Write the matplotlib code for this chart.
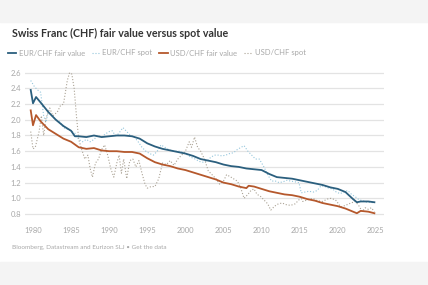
import matplotlib
matplotlib.use("Agg")
import matplotlib.pyplot as plt
from matplotlib.patches import Rectangle

plt.rcParams['font.family'] = ['Lato', 'DejaVu Sans']

# --- data ---
eur_fair_years = [1979.7, 1980.0, 1980.4, 1981, 1982, 1983, 1984, 1985, 1985.5, 1986, 1987, 1988,
                  1989, 1990, 1991, 1992, 1993, 1994, 1995, 1996, 1997, 1998, 1999, 2000, 2001,
                  2002, 2003, 2004, 2005, 2006, 2007, 2008, 2009, 2010, 2011, 2012, 2013, 2014,
                  2015, 2016, 2017, 2018, 2019, 2020, 2021, 2022, 2022.5, 2023, 2024, 2024.8]
eur_fair = [2.38, 2.21, 2.29, 2.22, 2.10, 2.00, 1.92, 1.86, 1.79, 1.79, 1.78, 1.80,
            1.78, 1.79, 1.80, 1.80, 1.79, 1.76, 1.70, 1.66, 1.63, 1.61, 1.59, 1.57, 1.54,
            1.50, 1.48, 1.46, 1.43, 1.41, 1.40, 1.38, 1.37, 1.36, 1.31, 1.27, 1.26, 1.25,
            1.23, 1.21, 1.19, 1.17, 1.14, 1.12, 1.08, 0.99, 0.95, 0.96, 0.96, 0.95]

usd_fair_years = [1979.7, 1980.0, 1980.4, 1981, 1982, 1983, 1984, 1985, 1986, 1987, 1988, 1989,
                  1990, 1991, 1992, 1993, 1994, 1995, 1996, 1997, 1998, 1999, 2000, 2001, 2002,
                  2003, 2004, 2005, 2006, 2007, 2008, 2008.3, 2009, 2010, 2011, 2012, 2013, 2014,
                  2015, 2016, 2017, 2018, 2019, 2020, 2021, 2022, 2022.5, 2023, 2024, 2024.8]
usd_fair = [2.12, 1.93, 2.06, 1.98, 1.88, 1.82, 1.76, 1.72, 1.65, 1.63, 1.64, 1.61,
            1.60, 1.60, 1.59, 1.59, 1.57, 1.51, 1.46, 1.43, 1.41, 1.38, 1.36, 1.33, 1.30,
            1.27, 1.24, 1.20, 1.18, 1.15, 1.13, 1.16, 1.15, 1.12, 1.09, 1.07, 1.05, 1.04,
            1.02, 0.99, 0.97, 0.94, 0.92, 0.90, 0.87, 0.83, 0.81, 0.84, 0.83, 0.81]

eur_spot_years = [1979.7, 1980.2, 1980.6, 1981.0, 1981.4, 1981.7, 1982.0, 1982.5, 1983.0, 1983.5,
                  1984.0, 1984.5, 1985.0, 1985.5, 1986.0, 1986.5, 1987.0, 1987.5, 1988.0, 1988.5,
                  1989.0, 1989.5, 1990.0, 1990.4, 1990.8, 1991.2, 1991.8, 1992.3, 1992.8, 1993.3,
                  1993.8, 1994.3, 1994.8, 1995.3, 1995.8, 1996.3, 1996.8, 1997.3, 1997.8, 1998.3,
                  1998.8, 1999.3, 1999.8, 2000.3, 2000.8, 2001.3, 2001.8, 2002.3, 2002.8, 2003.3,
                  2003.8, 2004.3, 2004.8, 2005.3, 2005.8, 2006.3, 2006.8, 2007.3, 2007.7, 2008.2,
                  2008.7, 2009.2, 2009.7, 2010.3, 2010.8, 2011.3, 2011.8, 2012.3, 2012.8, 2013.3,
                  2013.8, 2014.4, 2014.9, 2015.2, 2015.7, 2016.2, 2016.8, 2017.3, 2017.8, 2018.3,
                  2018.8, 2019.3, 2019.8, 2020.3, 2020.8, 2021.3, 2021.8, 2022.3, 2022.8, 2023.3,
                  2023.8, 2024.3, 2024.8]
eur_spot = [2.50, 2.42, 2.38, 2.35, 2.05, 1.97, 2.10, 2.05, 2.00, 1.98,
            1.90, 1.88, 1.86, 1.83, 1.75, 1.72, 1.75, 1.72, 1.75, 1.80,
            1.78, 1.82, 1.85, 1.86, 1.80, 1.82, 1.90, 1.85, 1.80, 1.78,
            1.72, 1.65, 1.60, 1.57, 1.55, 1.60, 1.68, 1.65, 1.62, 1.60,
            1.60, 1.60, 1.58, 1.55, 1.52, 1.50, 1.47, 1.46, 1.47, 1.52,
            1.55, 1.55, 1.54, 1.55, 1.57, 1.58, 1.62, 1.65, 1.67, 1.60,
            1.55, 1.50, 1.50, 1.40, 1.30, 1.22, 1.22, 1.20, 1.21, 1.23,
            1.22, 1.21, 1.20, 1.07, 1.08, 1.09, 1.08, 1.10, 1.16, 1.15,
            1.13, 1.12, 1.08, 1.06, 1.08, 1.10, 1.05, 1.02, 0.98, 0.97,
            0.95, 0.95, 0.94]

usd_spot_years = [1979.7, 1980.0, 1980.3, 1980.8, 1981.1, 1981.4, 1981.7, 1982.2, 1982.6, 1983.2,
                  1983.6, 1984.0, 1984.5, 1984.8, 1985.1, 1985.4, 1985.7, 1986.0, 1986.4, 1986.8,
                  1987.2, 1987.5, 1987.8, 1988.2, 1988.6, 1989.0, 1989.4, 1989.8, 1990.2, 1990.6,
                  1991.0, 1991.3, 1991.6, 1991.9, 1992.3, 1992.7, 1993.1, 1993.5, 1993.9, 1994.3,
                  1994.7, 1995.0, 1995.5, 1996.0, 1996.5, 1997.0, 1997.5, 1998.0, 1998.5, 1999.0,
                  1999.5, 2000.0, 2000.5, 2000.8, 2001.2, 2001.6, 2002.0, 2002.5, 2003.0, 2003.5,
                  2004.0, 2004.5, 2005.0, 2005.4, 2005.8, 2006.3, 2006.8, 2007.2, 2007.7, 2008.2,
                  2008.6, 2009.0, 2009.4, 2009.8, 2010.3, 2010.8, 2011.2, 2011.7, 2012.2, 2012.7,
                  2013.2, 2013.8, 2014.4, 2014.9, 2015.1, 2015.4, 2016.0, 2016.7, 2017.3, 2018.0,
                  2018.6, 2019.1, 2019.7, 2020.4, 2021.0, 2021.7, 2022.3, 2022.8, 2023.2, 2023.6,
                  2024.0, 2024.4, 2024.8]
usd_spot = [1.85, 1.63, 1.65, 1.85, 2.05, 1.80, 2.02, 2.15, 2.05, 2.10,
            2.18, 2.20, 2.50, 2.60, 2.58, 2.40, 2.05, 1.75, 1.62, 1.50,
            1.55, 1.38, 1.27, 1.45, 1.50, 1.62, 1.68, 1.55, 1.38, 1.27,
            1.45, 1.55, 1.32, 1.50, 1.25, 1.48, 1.50, 1.40, 1.48, 1.32,
            1.18, 1.13, 1.15, 1.15, 1.25, 1.45, 1.43, 1.48, 1.42, 1.50,
            1.55, 1.60, 1.72, 1.65, 1.78, 1.65, 1.60, 1.50, 1.35, 1.30,
            1.25, 1.18, 1.22, 1.30, 1.28, 1.25, 1.22, 1.15, 1.00, 1.05,
            1.10, 1.12, 1.05, 1.03, 0.98, 0.93, 0.85, 0.90, 0.93, 0.94,
            0.92, 0.91, 0.93, 0.98, 1.02, 0.96, 0.98, 1.00, 0.97, 0.96,
            0.99, 1.00, 0.98, 0.89, 0.91, 0.94, 0.96, 0.90, 0.83, 0.88,
            0.86, 0.88, 0.83]

y_ticks = [0.8, 1.0, 1.2, 1.4, 1.6, 1.8, 2.0, 2.2, 2.4, 2.6]
x_ticks = [1980, 1985, 1990, 1995, 2000, 2005, 2010, 2015, 2020, 2025]

c_eur = '#2b5f7e'
c_eur_spot = '#94c6dc'
c_usd = '#b5582c'
c_usd_spot = '#aaa294'
grey_txt = '#a8a8a8'

W, H = 428, 285
fig = plt.figure(figsize=(W / 100, H / 100), dpi=100)
fig.patch.set_facecolor('white')

# grey bands top and bottom
fig.add_artist(Rectangle((0, 1 - 22 / H), 1, 22 / H, transform=fig.transFigure,
                         color='#f4f4f4', zorder=0))
fig.add_artist(Rectangle((0, 0), 1, 23 / H, transform=fig.transFigure,
                         color='#f4f4f4', zorder=0))

ax = fig.add_axes([25 / W, 1 - 215.6 / H, 359 / W, (215.6 - 71.1) / H])
ax.set_facecolor('white')

ax.plot(eur_spot_years, eur_spot, color=c_eur_spot, lw=0.8, ls=':', label='EUR/CHF spot', zorder=2)
ax.plot(usd_spot_years, usd_spot, color=c_usd_spot, lw=0.8, ls=':', label='USD/CHF spot', zorder=2)
ax.plot(eur_fair_years, eur_fair, color=c_eur, lw=1.3, label='EUR/CHF fair value', zorder=3)
ax.plot(usd_fair_years, usd_fair, color=c_usd, lw=1.3, label='USD/CHF fair value', zorder=3)

ax.set_xlim(1978.95, 2026.06)
ax.set_ylim(0.78, 2.62)
ax.set_yticks(y_ticks)
ax.set_yticklabels([f'{v:.1f}' for v in y_ticks])
ax.set_xticks(x_ticks)
ax.grid(axis='y', color='#e3e3e3', lw=0.9)
ax.set_axisbelow(True)
for s in ax.spines.values():
    s.set_visible(False)
ax.tick_params(axis='both', length=0, labelsize=5.5, labelcolor=grey_txt)
ax.tick_params(axis='y', pad=3)
ax.tick_params(axis='x', pad=8)

# legend in the reference order
h, l = ax.get_legend_handles_labels()
order = [2, 0, 3, 1]
fig.legend([h[i] for i in order], [l[i] for i in order], loc='center left',
           bbox_to_anchor=(8 / W, 1 - 53 / H), ncol=4, frameon=False, fontsize=5.5,
           labelcolor=grey_txt, handlelength=1.1, handletextpad=0.3, columnspacing=0.9,
           borderaxespad=0, borderpad=0)

fig.text(12 / W, 1 - 33 / H, 'Swiss Franc (CHF) fair value versus spot value',
         fontsize=7.7, fontweight='bold', color='#333333', va='center', ha='left')
fig.text(12 / W, 1 - 248 / H, 'Bloomberg, Datastream and Eurizon SLJ \u2022 Get the data',
         fontsize=4.6, color=grey_txt, va='center', ha='left')

fig.savefig('out.png', dpi=100)
